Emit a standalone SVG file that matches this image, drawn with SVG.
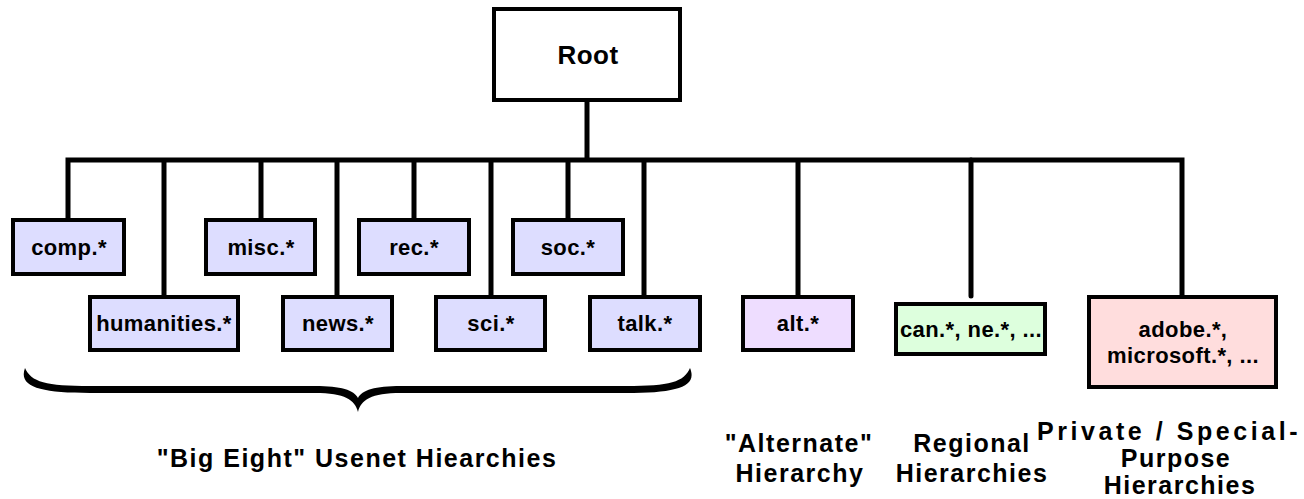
<svg xmlns="http://www.w3.org/2000/svg" width="1304" height="499" viewBox="0 0 1304 499">
<style>
text{font-family:"Liberation Sans",Arial,sans-serif;font-weight:bold;fill:#000;text-anchor:middle}
.box{stroke:#000;stroke-width:4}
.lbl{font-size:22px;letter-spacing:0.4px}
.cap{font-size:25px;letter-spacing:1.5px}
.big{fill:#DDDDFF}
.alt{fill:#EEDDFF}
.reg{fill:#DDFFDD}
.prv{fill:#FFDDDD}
.wire{fill:none;stroke:#000;stroke-width:5}
</style>
<rect width="1304" height="499" fill="#fff"/>
<g id="connectors">
<path class="wire" d="M587,100 V160"/>
<path class="wire" d="M68,220 V160 H1182 V297"/>
<path class="wire" d="M164,160 V297 M261,160 V220 M337,160 V297 M414,160 V220 M491,160 V297 M568,160 V220 M644,160 V297 M798,160 V297"/>
<path class="wire" stroke-linecap="round" d="M971,160 V296"/>
</g>
<g id="root"><rect class="box" x="494" y="9" width="186" height="91" fill="#fff"/><text x="588" y="64" style="font-size:26px;letter-spacing:0.5px">Root</text></g>
<g id="comp"><rect class="box big" x="13" y="220" width="111" height="54"/><text class="lbl" x="69" y="255">comp.*</text></g>
<g id="humanities"><rect class="box big" x="90" y="297" width="148" height="53"/><text class="lbl" x="164" y="331">humanities.*</text></g>
<g id="misc"><rect class="box big" x="206" y="220" width="109" height="54"/><text class="lbl" x="261" y="255">misc.*</text></g>
<g id="news"><rect class="box big" x="283" y="297" width="109" height="53"/><text class="lbl" x="338" y="331">news.*</text></g>
<g id="rec"><rect class="box big" x="359" y="220" width="110" height="54"/><text class="lbl" x="414" y="255">rec.*</text></g>
<g id="sci"><rect class="box big" x="436" y="297" width="109" height="53"/><text class="lbl" x="491" y="331">sci.*</text></g>
<g id="soc"><rect class="box big" x="513" y="220" width="110" height="54"/><text class="lbl" x="568" y="255">soc.*</text></g>
<g id="talk"><rect class="box big" x="590" y="297" width="110" height="53"/><text class="lbl" x="645" y="331">talk.*</text></g>
<g id="alt"><rect class="box alt" x="743" y="297" width="110" height="53"/><text class="lbl" x="798" y="331">alt.*</text></g>
<g id="regional"><rect class="box reg" x="896" y="304" width="149" height="50"/><text class="lbl" x="971" y="337">can.*, ne.*, ...</text></g>
<g id="private"><rect class="box prv" x="1089" y="297" width="187" height="90"/><text class="lbl" x="1183" y="337">adobe.*,</text><text class="lbl" x="1183" y="363">microsoft.*, ...</text></g>
<g id="brace">
<path fill="#000" d="M25,368 C18,387 40,393 90,393 L315,393 C345,393 355,400 358,412 C361,400 371,393 401,393 L626,393 C676,393 698,387 690,368 C684,382 670,386 626,386 L401,386 C375,386 362,390 358,398 C354,390 341,386 315,386 L90,386 C46,386 31,382 25,368 Z"/>
</g>
<g id="labels">
<text class="cap" x="357" y="467">"Big Eight" Usenet Hiearchies</text>
<text class="cap" x="799" y="452">"Alternate"</text>
<text class="cap" x="800" y="482">Hierarchy</text>
<text class="cap" x="972" y="452">Regional</text>
<text class="cap" x="972" y="482">Hierarchies</text>
<text class="cap" x="1168" y="440" textLength="262" lengthAdjust="spacing">Private / Special-</text>
<text class="cap" x="1176" y="467">Purpose</text>
<text class="cap" x="1180" y="494">Hierarchies</text>
</g>
</svg>
